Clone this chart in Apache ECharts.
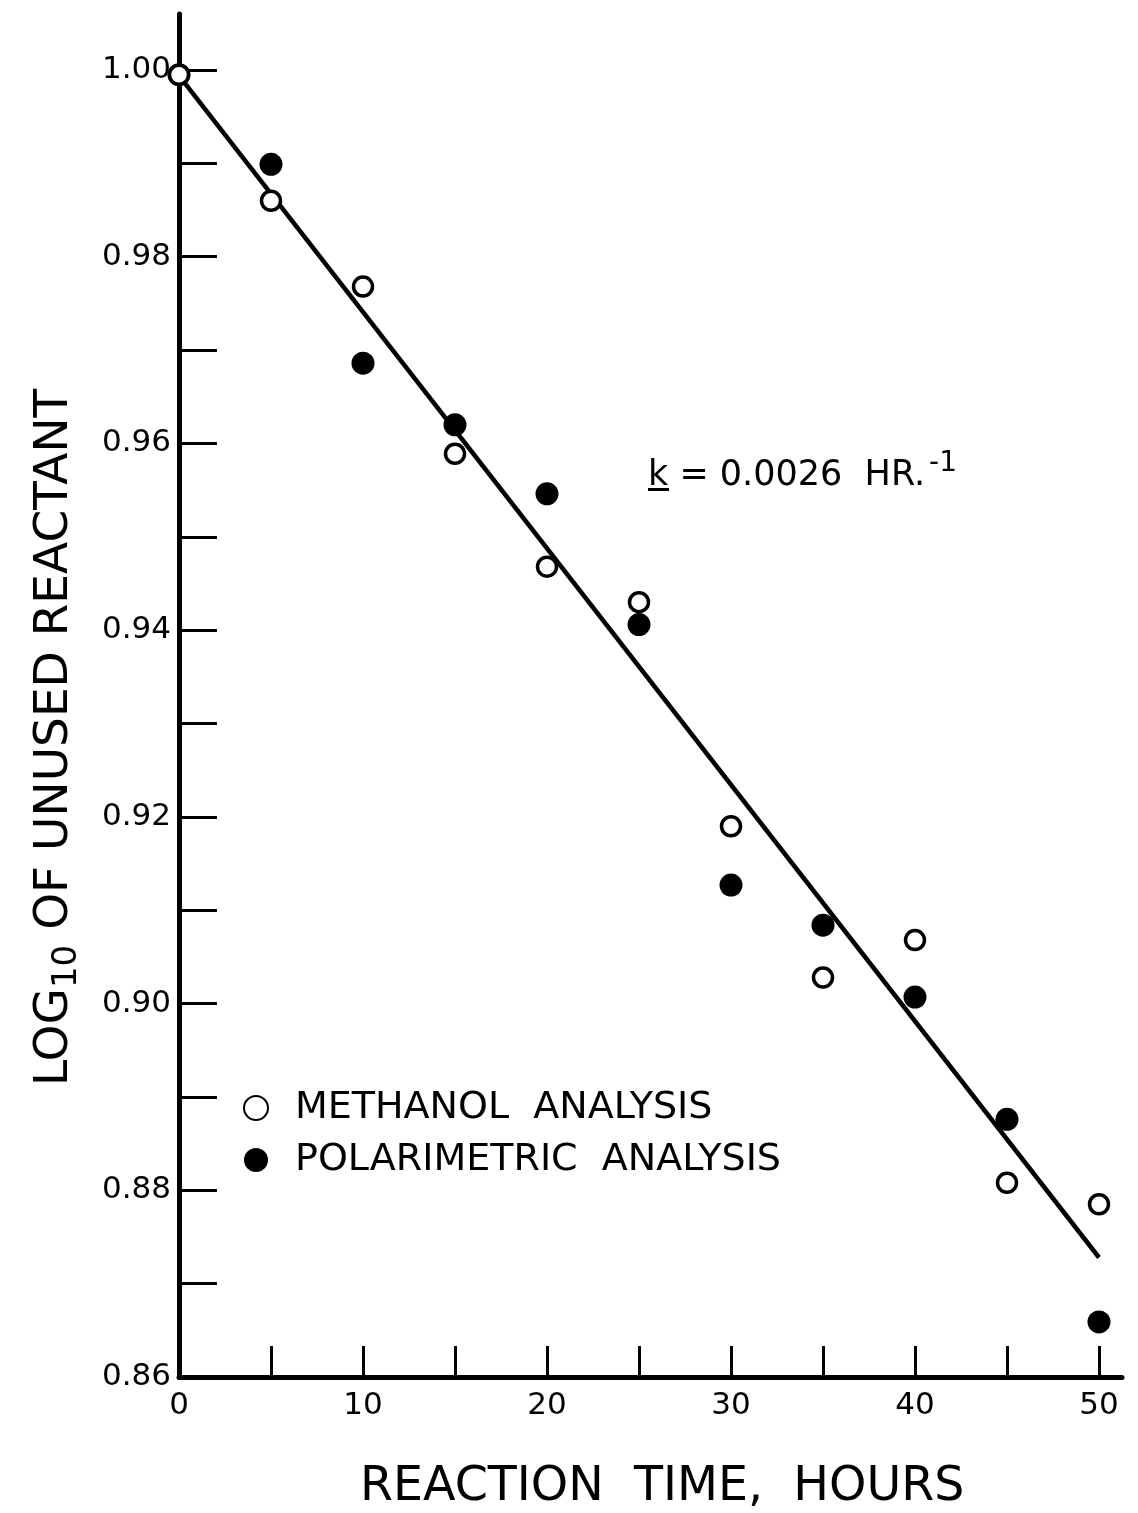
<!DOCTYPE html>
<html>
<head>
<meta charset="utf-8">
<script src="https://cdn.jsdelivr.net/npm/echarts@6/dist/echarts.min.js"></script>
<style>html,body{margin:0;padding:0;background:#fff}#c{width:1138px;height:1513px}</style>
</head>
<body>
<div id="c"></div>
<script>
// Data
const hours = [0, 5, 10, 15, 20, 25, 30, 35, 40, 45, 50];
const methanol = [0.9995, 0.9860, 0.9768, 0.9589, 0.9468, 0.9430, 0.9190, 0.9028, 0.9068, 0.8808, 0.8785];
const polarimetric = [0.9995, 0.9899, 0.9686, 0.9620, 0.9546, 0.9406, 0.9127, 0.9084, 0.9007, 0.8876, 0.8659];
const fitX = [0, 50];
const fitY = [0.9994, 0.8728];
const xTickValues = [0, 5, 10, 15, 20, 25, 30, 35, 40, 45, 50];
const xLabelValues = [0, 10, 20, 30, 40, 50];
const yTickValues = [0.86, 0.87, 0.88, 0.89, 0.90, 0.91, 0.92, 0.93, 0.94, 0.95, 0.96, 0.97, 0.98, 0.99, 1.00];
const yLabelValues = [0.86, 0.88, 0.90, 0.92, 0.94, 0.96, 0.98, 1.00];
const seriesNames = ['METHANOL ANALYSIS', 'POLARIMETRIC ANALYSIS'];
const xTitle = 'REACTION  TIME,  HOURS';
const FONT = 'DejaVu Sans';

const chart = echarts.init(document.getElementById('c'), null, {renderer: 'canvas'});
const zip = (xs, ys) => xs.map((x, i) => [x, ys[i]]);

chart.setOption({
  backgroundColor: '#fff',
  animation: false,
  textStyle: {fontFamily: FONT, color: '#000'},
  grid: {left: 179, right: 16, top: 14, bottom: 136, containLabel: false},
  xAxis: {
    type: 'value', min: 0, max: 51.25,
    axisLine: {lineStyle: {color: '#000', width: 5}},
    axisTick: {inside: true, length: 31, customValues: xTickValues, lineStyle: {color: '#000', width: 3}},
    axisLabel: {customValues: xLabelValues, fontFamily: FONT, fontSize: 31, color: '#000', margin: 13},
    splitLine: {show: false}
  },
  yAxis: {
    type: 'value', min: 0.86, max: 1.006,
    axisLine: {lineStyle: {color: '#000', width: 5}},
    axisTick: {inside: true, length: 38, customValues: yTickValues, lineStyle: {color: '#000', width: 3}},
    axisLabel: {customValues: yLabelValues, fontFamily: FONT, fontSize: 31, color: '#000', margin: 8,
      formatter: v => v.toFixed(2)},
    splitLine: {show: false}
  },
  legend: {
    orient: 'vertical', left: 238, top: 1084, itemGap: 14,
    itemWidth: 24, itemHeight: 26,
    data: seriesNames,
    formatter: n => n.replace(' ', '  '),
    textStyle: {fontFamily: FONT, fontSize: 38, color: '#000', padding: [0, 0, 0, 22]}
  },
  series: [
    {type: 'line', data: zip(fitX, fitY), symbol: 'none', silent: true,
      lineStyle: {color: '#000', width: 4.5}, z: 2},
    {name: seriesNames[1], type: 'scatter', data: zip(hours, polarimetric), symbol: 'circle', symbolSize: 23,
      itemStyle: {color: '#000', opacity: 1}, z: 3},
    {name: seriesNames[0], type: 'scatter', data: zip(hours, methanol), symbol: 'circle', symbolSize: 19,
      itemStyle: {color: '#fff', borderColor: '#000', borderWidth: 3.5, opacity: 1}, z: 4}
  ],
  graphic: [
    {type: 'text', left: 360, top: 1464,
      style: {text: xTitle, fontFamily: FONT, fontSize: 47.5, fill: '#000'}},
    {type: 'text', x: 26, y: 1086, rotation: Math.PI / 2,
      style: {text: 'LOG{sub|10} OF UNUSED REACTANT', fontFamily: FONT, fontSize: 47, fill: '#000',
        rich: {sub: {fontFamily: FONT, fontSize: 34, padding: [24, 0, 0, 0], fill: '#000'}}}},
    {type: 'text', x: 648, y: 450,
      style: {text: '{u|k} = 0.0026  HR.{sup|-1}', fontFamily: FONT, fontSize: 35, fill: '#000',
        rich: {u: {fontFamily: FONT, fontSize: 35, fill: '#000'},
               sup: {fontFamily: FONT, fontSize: 28, fill: '#000', padding: [0, 0, 24, 4]}}}},
    {type: 'rect', shape: {x: 648, y: 488, width: 21, height: 3}, style: {fill: '#000'}}
  ]
});
</script>
</body>
</html>
